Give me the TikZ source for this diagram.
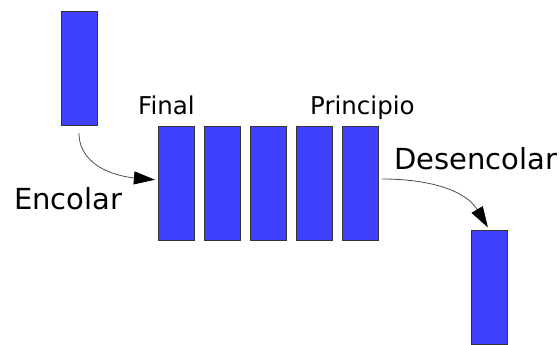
\documentclass[tikz,border=0pt]{standalone}
\usepackage{fontspec}
\setmainfont{DejaVu Sans}
\usetikzlibrary{arrows.meta,positioning}
\definecolor{qblue}{RGB}{64,64,255}
\tikzset{
elem/.style = {draw=black!80, fill=qblue, rectangle, inner sep=0pt, minimum width=36pt, minimum height=114pt, line width=0.8pt},
tmp/.style  = {coordinate},
small/.style = {anchor=base west, inner sep=0pt, font=\fontsize{24.5}{28}\selectfont},
big/.style   = {anchor=base west, inner sep=0pt, font=\fontsize{29}{32}\selectfont},
link/.style  = {->, line width=0.8pt, black!70}
}

\begin{document}
\begin{tikzpicture}[x=1pt, y=-1pt, node distance=46pt, >={Triangle[length=21pt,width=13pt,color=black]}]
  \useasboundingbox (0,0) rectangle (560,345);
  \node [elem] at (79,68.5)                    (new)        {};
  \node [elem] at (176.3,183)                  (q1)         {};
  \node [elem, right of=q1]                    (q2)         {};
  \node [elem, right of=q2]                    (q3)         {};
  \node [elem, right of=q3]                    (q4)         {};
  \node [elem, right of=q4]                    (q5)         {};
  \node [elem] at (489.2,287)                  (out)        {};
  \node [small] at (138,114)                   (final)      {Final};
  \node [small] at (310,114)                   (principio)  {Principio};
  \node [big] at (14,209)                      (encolar)    {Encolar};
  \node [big] at (394,169)                     (desencolar) {Desencolar};
  \node [tmp, below=7pt of new]                (tmp1)       {};
  \node [tmp] at (382,179)                     (tmp2)       {};

  \draw [link, shorten >=3pt] (tmp1) to[out=-90, in=175] ([yshift=3pt]q1.west);
  \draw [link, shorten >=2.5pt] (tmp2) to[out=0, in=121] (out.north);
\end{tikzpicture}
\end{document}
